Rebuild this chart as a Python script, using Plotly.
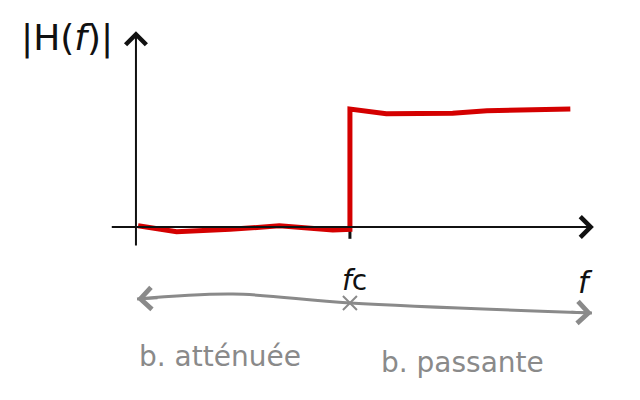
import plotly.graph_objects as go

# |H(f)| sketch of a high-pass filter, fc normalised to 1
freq = [0.01, 0.19, 0.44, 0.67, 0.92, 1.0, 1.0, 1.17, 1.48, 1.64, 2.03]
gain = [0.01, -0.04, -0.02, 0.01, -0.025, -0.02, 1.0, 0.96, 0.965, 0.985, 1.0]

fc = 1.0
f_axis = [-0.12, 2.14]
h_axis = [-0.17, 1.66]

# hand-drawn band bracket under the axis
band_f = [0.005, 0.453, 1.0, 2.131]
band_y = [-0.61, -0.568, -0.644, -0.729]

labels = ["|H(<i>f</i>)|", "<i>f</i>c", "<i>f</i>"]
label_f = [-0.32, 1.02, 2.1]
label_y = [1.6, -0.45, -0.47]

bands = ["b. atténuée", "b. passante"]
bands_f = [0.393, 1.528]
bands_y = [-1.095, -1.145]

black = "#111111"
grey = "#8a8a8a"
red = "#d40000"

fig = go.Figure()

fig.add_trace(go.Scatter(x=band_f, y=band_y, mode="lines",
                         line=dict(color=grey, width=3, shape="spline"),
                         hoverinfo="skip"))
fig.add_trace(go.Scatter(x=[fc], y=[band_y[2]], mode="markers",
                         marker=dict(symbol="x-thin", size=14,
                                     line=dict(color=grey, width=2)),
                         hoverinfo="skip"))
fig.add_trace(go.Scatter(x=[fc, fc], y=[0, -0.1], mode="lines",
                         line=dict(color=black, width=3), hoverinfo="skip"))
fig.add_trace(go.Scatter(x=freq, y=gain, mode="lines",
                         line=dict(color=red, width=5)))

# axes drawn as arrows
fig.add_annotation(x=f_axis[1], y=0, ax=f_axis[0], ay=0, xref="x", yref="y",
                   axref="x", ayref="y", text="", showarrow=True,
                   arrowhead=4, arrowsize=2, arrowwidth=2, arrowcolor=black)
fig.add_annotation(x=0, y=h_axis[1], ax=0, ay=h_axis[0], xref="x", yref="y",
                   axref="x", ayref="y", text="", showarrow=True,
                   arrowhead=4, arrowsize=2, arrowwidth=2, arrowcolor=black)

# bracket heads
fig.add_annotation(x=band_f[0], y=band_y[0], ax=22, ay=-1, text="",
                   showarrow=True, arrowhead=4, arrowsize=1.7,
                   arrowwidth=2.5, arrowcolor=grey)
fig.add_annotation(x=band_f[-1], y=band_y[-1], ax=-22, ay=-1, text="",
                   showarrow=True, arrowhead=4, arrowsize=1.7,
                   arrowwidth=2.5, arrowcolor=grey)

sizes = [36, 28, 30]
for t, x, y, s in zip(labels, label_f, label_y, sizes):
    fig.add_annotation(x=x, y=y, text=t, showarrow=False,
                       font=dict(size=s, color=black))
for t, x, y in zip(bands, bands_f, bands_y):
    fig.add_annotation(x=x, y=y, text=t, showarrow=False,
                       font=dict(size=28, color=grey))

# page body adds an 8px margin, ranges compensate for it
fig.update_xaxes(range=[-0.598, 2.393], visible=False)
fig.update_yaxes(range=[-1.534, 1.856], visible=False)
fig.update_layout(width=640, height=400, margin=dict(l=0, r=0, t=0, b=0),
                  plot_bgcolor="white", paper_bgcolor="white",
                  showlegend=False, font=dict(family="DejaVu Sans"))

fig.write_html("out.html")
